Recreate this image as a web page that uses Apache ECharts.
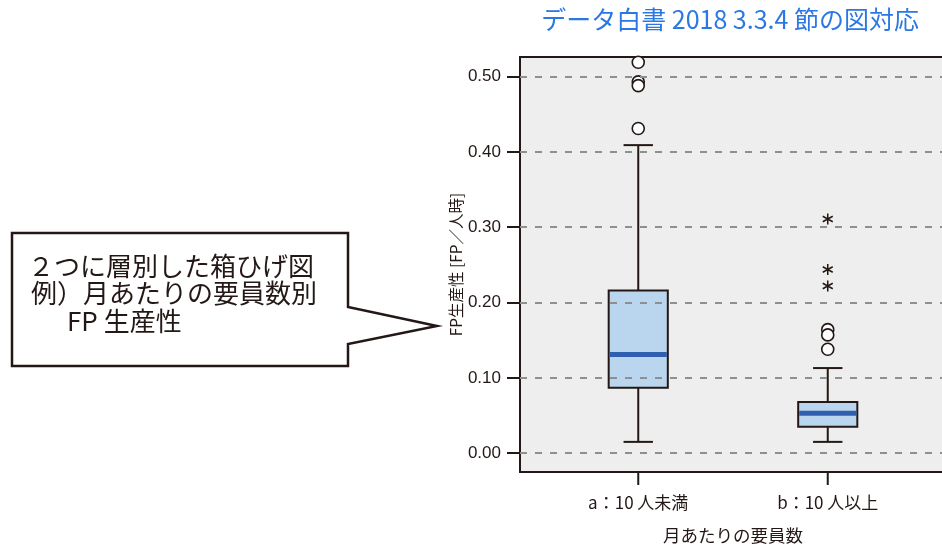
<!DOCTYPE html>
<html>
<head>
<meta charset="utf-8">
<script src="https://cdn.jsdelivr.net/npm/echarts@6/dist/echarts.min.js"></script>
<style>
html,body{margin:0;padding:0;background:#fff;}
#chart{width:942px;height:549px;}
</style>
</head>
<body>
<div id="chart"></div>
<script>
// ---- data ----
const categories = ['a：10 人未満', 'b：10 人以上'];
const positions = [1, 2];
const whiskerLow = [0.015, 0.015];
const quartile1 = [0.087, 0.035];
const medians = [0.131, 0.053];
const quartile3 = [0.216, 0.068];
const whiskerHigh = [0.409, 0.113];
const outlierX = [1, 1, 1, 1, 2, 2, 2];
const outlierY = [0.519, 0.493, 0.488, 0.431, 0.164, 0.157, 0.138];
const extremeX = [2, 2, 2];
const extremeY = [0.311, 0.244, 0.222];
const yTicks = [0, 0.1, 0.2, 0.3, 0.4, 0.5];

const INK = '#231815';
const boxData = positions.map((p, i) => [p, whiskerLow[i], quartile1[i], medians[i], quartile3[i], whiskerHigh[i]]);
const outlierData = outlierX.map((x, i) => [x, outlierY[i]]);
const extremeData = extremeX.map((x, i) => [x, extremeY[i]]);

function renderBox(params, api) {
  const x = api.value(0);
  const lo = api.coord([x, api.value(1)]);
  const q1 = api.coord([x, api.value(2)]);
  const md = api.coord([x, api.value(3)]);
  const q3 = api.coord([x, api.value(4)]);
  const hi = api.coord([x, api.value(5)]);
  const bw = api.size([0.312, 0])[0];
  const cw = api.size([0.155, 0])[0];
  const cx = lo[0];
  const bottom = params.coordSys.y + params.coordSys.height;
  const ls = { stroke: INK, lineWidth: 2, fill: null };
  return {
    type: 'group',
    children: [
      // category tick below the frame
      { type: 'line', shape: { x1: cx, y1: bottom, x2: cx, y2: bottom + 13 }, style: ls },
      { type: 'line', shape: { x1: cx, y1: lo[1], x2: cx, y2: q1[1] }, style: ls },
      { type: 'line', shape: { x1: cx, y1: q3[1], x2: cx, y2: hi[1] }, style: ls },
      { type: 'line', shape: { x1: cx - cw / 2, y1: lo[1], x2: cx + cw / 2, y2: lo[1] }, style: ls },
      { type: 'line', shape: { x1: cx - cw / 2, y1: hi[1], x2: cx + cw / 2, y2: hi[1] }, style: ls },
      { type: 'rect', shape: { x: cx - bw / 2, y: q3[1], width: bw, height: q1[1] - q3[1] },
        style: { fill: '#bad5ee', stroke: INK, lineWidth: 2 } },
      { type: 'rect', shape: { x: cx - bw / 2 + 1, y: md[1] - 2.5, width: bw - 2, height: 5 },
        style: { fill: '#2f5fae' } }
    ]
  };
}

const chart = echarts.init(document.getElementById('chart'), null, { renderer: 'canvas' });
chart.setOption({
  animation: false,
  backgroundColor: '#ffffff',
  title: {
    text: 'データ白書 2018 3.3.4 節の図対応',
    right: 18, top: 2,
    textStyle: { fontFamily: 'Noto Sans CJK JP', fontSize: 25, fontWeight: 'normal', color: '#2b78e4' }
  },
  grid: {
    left: 520, right: -4, top: 57, bottom: 77,
    show: true, backgroundColor: '#edeeed', borderColor: INK, borderWidth: 2,
    containLabel: false, outerBoundsMode: 'none'
  },
  xAxis: {
    type: 'value', min: 0.376, max: 2.624, position: 'bottom',
    axisLine: { show: true, onZero: true, onZeroAxisIndex: 1, lineStyle: { color: INK, width: 2 } },
    splitLine: { show: false },
    axisTick: { show: false },
    axisLabel: {
      customValues: positions, margin: 22,
      formatter: v => categories[positions.indexOf(Math.round(v))] || '',
      fontFamily: 'Noto Sans CJK JP', fontSize: 17, color: INK
    },
    name: '月あたりの要員数', nameLocation: 'middle', nameGap: 55,
    nameTextStyle: { fontFamily: 'Noto Sans CJK JP', fontSize: 17.5, color: INK }
  },
  yAxis: [{
    type: 'value', min: -0.025, max: 0.526, position: 'left',
    axisLine: { show: true, onZero: false, lineStyle: { color: INK, width: 2 } },
    splitLine: { show: false },
    axisTick: { show: true, inside: false, length: 13, customValues: yTicks, lineStyle: { color: INK, width: 2 } },
    axisLabel: {
      customValues: yTicks, margin: 19,
      formatter: v => v.toFixed(2),
      fontFamily: 'Liberation Sans', fontSize: 17, color: INK
    },
    name: 'FP生産性 [FP／人時]', nameLocation: 'middle', nameGap: 56,
    nameTextStyle: { fontFamily: 'Noto Sans CJK JP', fontSize: 15.5, color: INK }
  }, {
    type: 'value', min: 0, max: 1, position: 'right', show: false
  }],
  series: [
    {
      type: 'line', data: [], z: 1, silent: true,
      markLine: {
        silent: true, symbol: ['none', 'none'], label: { show: false },
        lineStyle: { color: '#8f8f8f', width: 2, type: [7, 8] },
        data: yTicks.map(v => ({ yAxis: v }))
      }
    },
    {
      type: 'custom', z: 3, renderItem: renderBox, clip: false,
      encode: { x: 0, y: [1, 2, 3, 4, 5] },
      data: boxData
    },
    {
      type: 'scatter', z: 4, symbol: 'circle', symbolSize: 12,
      itemStyle: { color: '#ffffff', borderColor: INK, borderWidth: 1.6, opacity: 1 },
      data: outlierData
    },
    {
      type: 'scatter', z: 4,
      symbol: 'path://M0,-10L0,10M-8.66,-5L8.66,5M-8.66,5L8.66,-5',
      symbolSize: [10, 11],
      itemStyle: { color: 'none', borderColor: INK, borderWidth: 1.6, opacity: 1 },
      data: extremeData
    }
  ],
  graphic: [
    {
      type: 'polygon', z: 10,
      shape: { points: [[12, 233], [348, 233], [348, 307], [437, 326], [348, 344], [348, 366], [12, 366]] },
      style: { fill: '#ffffff', stroke: INK, lineWidth: 2.5 }
    },
    {
      type: 'text', z: 11, left: 28, top: 253,
      style: { text: '２つに層別した箱ひげ図', font: '26px "Noto Sans CJK JP"', fill: INK }
    },
    {
      type: 'text', z: 11, left: 31, top: 280,
      style: { text: '例）月あたりの要員数別', font: '26px "Noto Sans CJK JP"', fill: INK }
    },
    {
      type: 'text', z: 11, left: 67, top: 308,
      style: { text: 'FP 生産性', font: '26px "Noto Sans CJK JP"', fill: INK }
    }
  ]
});
</script>
</body>
</html>
